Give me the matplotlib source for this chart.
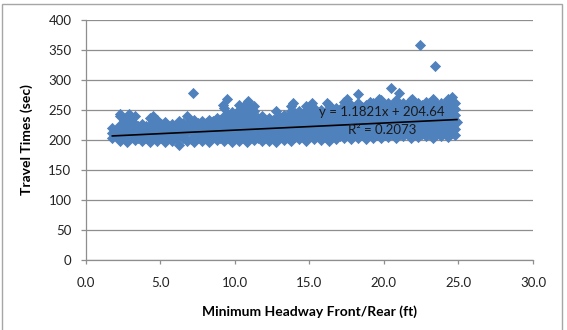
import numpy as np
import matplotlib
matplotlib.use("Agg")
import matplotlib.pyplot as plt
import matplotlib.patches as patches

plt.rcParams['font.family'] = ['Lato', 'DejaVu Sans']

nan = np.nan

# --- data (the cloud is very dense, so it is read column by column) ---
# columns on the "a" grid
x_a = [1.8, 2.3, 2.8, 3.3, 3.8, 4.3, 4.8, 5.3, 5.8, 6.3, 6.8, 7.3, 7.8, 8.3, 8.8, 9.3,
       9.8, 10.3, 10.8, 11.3, 11.8, 12.3, 12.8, 13.3, 13.8, 14.3, 14.8, 15.3, 15.8, 16.3,
       16.8, 17.3, 17.8, 18.3, 18.8, 19.3, 19.8, 20.3, 20.8, 21.3, 21.8, 22.3, 22.8, 23.3,
       23.8, 24.3, 24.8]
a_bot = [204, 199, 197, 200, 198, 196, 199, 197, 199, 191, 198, 196, 199, 197, 200, 198,
         196, 199, 197, 200, 198, 199, 197, 200, 198, 201, 199, 202, 200, 198, 201, 203,
         201, 204, 202, 204, 203, 205, 203, 206, 204, 205, 206, 204, 206, 205, 208]
a_mid1 = [212, 211, 213, 210, 212, 214, 211, 213, 212, 210, 213, 212, 214, 211, 213, 212,
          214, 213, 211, 214, 212, 213, 215, 212, 214, 213, 215, 214, 212, 215, 214, 216,
          213, 215, 216, 214, 216, 215, 217, 216, 215, 217, 216, 218, 216, 217, 219]
a_mid2 = [nan, 225, 224, 226, nan, 225, 224, 223, nan, 224, 226, 225, 224, 225, 226, 224,
          226, 225, 227, 226, 225, 224, 226, 227, 225, 226, 228, 227, 226, 228, 227, 229,
          228, 227, 229, 228, 230, 229, 228, 230, 229, 231, 230, 229, 231, 230, 232]
a_mid3 = [nan, nan, nan, nan, nan, nan, nan, nan, nan, nan, nan, nan, nan, nan, nan, 240,
          236, 240, 238, 240, nan, nan, 237, nan, 240, 238, 240, 239, 238, 241, 240, 242,
          241, 240, 242, 241, 243, 242, 241, 243, 242, 244, 243, 242, 244, 243, 242]
a_mid4 = [nan, nan, nan, nan, nan, nan, nan, nan, nan, nan, nan, nan, nan, nan, nan, nan,
          nan, 250, 250, 248, nan, nan, nan, nan, 248, nan, 248, 247, nan, 250, 247, 253,
          250, 251, 250, 252, 254, 252, 253, 252, 254, 253, 253, 254, 253, 255, 252]
a_top = [220, 240, 236, 240, 226, 236, 234, 230, 226, 232, 240, 234, 232, 234, 236, 254,
         246, 258, 262, 256, 240, 236, 248, 242, 256, 248, 256, 254, 250, 258, 254, 264,
         258, 262, 258, 262, 266, 262, 266, 262, 266, 262, 264, 266, 262, 268, 262]

# columns on the "b" grid (in between)
x_b = [2.05, 2.55, 3.05, 3.55, 4.05, 4.55, 5.05, 5.55, 6.05, 6.55, 7.05, 7.55, 8.05, 8.55,
       9.05, 9.55, 10.05, 10.55, 11.05, 11.55, 12.05, 12.55, 13.05, 13.55, 14.05, 14.55,
       15.05, 15.55, 16.05, 16.55, 17.05, 17.55, 18.05, 18.55, 19.05, 19.55, 20.05, 20.55,
       21.05, 21.55, 22.05, 22.55, 23.05, 23.55, 24.05, 24.55]
b_low = [207, 204, 205, 204, 203, 204, 203, 204, 203, 203, 202, 204, 203, 205, 204, 203,
         204, 203, 205, 204, 204, 203, 205, 204, 205, 206, 206, 207, 205, 206, 207, 208,
         208, 209, 208, 209, 209, 210, 210, 211, 210, 210, 211, 210, 211, 212]
b_mid1 = [nan, 218, 219, 217, 218, 219, 218, 217, 218, 219, 218, 219, 220, 218, 219, 220,
          219, 221, 220, 219, 220, 221, 219, 220, 221, 222, 221, 220, 222, 221, 222, 223,
          222, 221, 223, 222, 224, 223, 222, 224, 223, 224, 225, 224, 223, 225]
b_mid2 = [nan, nan, nan, nan, nan, nan, nan, nan, nan, nan, nan, nan, nan, nan, nan, 231,
          232, 231, 232, 230, nan, nan, 230, 231, 232, 231, 233, 232, 231, 233, 232, 234,
          233, 232, 234, 233, 235, 234, 233, 235, 234, 236, 235, 234, 236, 235]
b_mid3 = [nan, nan, nan, nan, nan, nan, nan, nan, nan, nan, nan, nan, nan, nan, nan, nan,
          nan, 243, 242, nan, nan, nan, nan, nan, nan, 238, 242, 240, 239, 242, 241, 245,
          244, 244, 245, 246, 247, 246, 246, 247, 246, 247, 248, 246, 247, 247]
b_top = [217, 233, 233, 223, 223, 231, 227, 223, 223, 229, 231, 229, 229, 231, 233, 243,
         243, 255, 253, 237, 233, 233, 239, 239, 245, 245, 251, 247, 247, 251, 251, 255,
         255, 255, 255, 259, 259, 259, 259, 259, 259, 259, 261, 259, 259, 259]

# single points sticking out of the cloud
out_x = [7.2, 9.5, 9.2, 10.9, 13.9, 15.2, 16.2, 17.5, 18.3, 19.1, 19.7, 20.5, 21.0, 22.4,
         23.4, 24.6, 21.9, 23.3, 2.9, 2.3, 4.5, 24.9]
out_y = [278, 268, 258, 265, 262, 261, 262, 269, 276, 264, 268, 286, 279, 359,
         324, 271, 268, 268, 244, 243, 240, 230]

# trendline reported on the chart
slope, intercept = 1.1821, 204.64
r2 = 0.2073

xs = np.concatenate([np.repeat([x_a], 6, axis=0).ravel(),
                     np.repeat([x_b], 5, axis=0).ravel(), out_x])
ys = np.concatenate([a_bot, a_mid1, a_mid2, a_mid3, a_mid4, a_top,
                     b_low, b_mid1, b_mid2, b_mid3, b_top, out_y]).astype(float)

fig = plt.figure(figsize=(5.67, 3.30), dpi=100)
ax = fig.add_axes([85.5 / 567, 70 / 330, 447.5 / 567, 240 / 330])

grid_c = '#8e8e8e'
blue = '#4F81BD'

ax.scatter(xs, ys, marker='D', s=26, color=blue, edgecolors=blue, linewidths=0.6,
           zorder=3)

tx = np.array([1.8, 24.9])
ax.plot(tx, slope * tx + intercept, color='black', lw=1.2, zorder=4)

ax.text(19.87, 247, f"y = {slope}x + {intercept}", ha='center', va='center',
        fontsize=9.5, color='#1a1a1a', zorder=5)
ax.text(19.87, 217, f"R² = {r2}", ha='center', va='center',
        fontsize=9.5, color='#1a1a1a', zorder=5)

ax.set_xlim(0, 30)
ax.set_ylim(0, 400)
ax.set_xticks(np.arange(0, 31, 5))
ax.set_xticklabels([f"{v:.1f}" for v in np.arange(0, 31, 5)])
ax.set_yticks(np.arange(0, 401, 50))

ax.grid(axis='y', color=grid_c, lw=0.9, zorder=0)
ax.set_axisbelow(True)
for side in ['top', 'right']:
    ax.spines[side].set_visible(False)
for side in ['left', 'bottom']:
    ax.spines[side].set_color(grid_c)
    ax.spines[side].set_linewidth(0.9)

ax.tick_params(axis='y', direction='out', length=3.6, width=0.9, color=grid_c,
               labelsize=9.5, pad=6.5, labelcolor='#222222')
ax.tick_params(axis='x', direction='out', length=3, width=0.9, color=grid_c,
               labelsize=9.5, pad=9, labelcolor='#222222')

ax.set_xlabel("Minimum Headway Front/Rear (ft)", fontsize=10, fontweight='bold',
              labelpad=12)
ax.set_ylabel("Travel Times (sec)", fontsize=10, fontweight='bold', labelpad=11)

# outer chart frame
fig.patches.append(patches.Rectangle((2 / 567, -0.05), 560 / 567, 0.988 + 0.05,
                                     transform=fig.transFigure, fill=False,
                                     edgecolor='#a6a6a6', lw=1.0))

fig.savefig('out.png', dpi=100)
